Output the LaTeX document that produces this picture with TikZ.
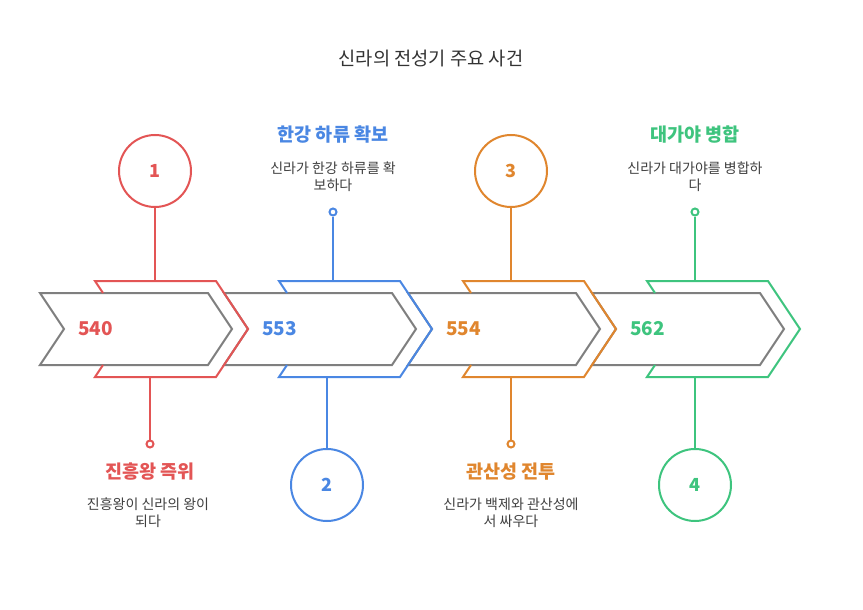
\documentclass[tikz,border=0pt]{standalone}
\usepackage{fontspec}
\setmainfont{Noto Sans CJK KR}
\definecolor{cred}{HTML}{E35555}
\definecolor{cblue}{HTML}{4A87E3}
\definecolor{corange}{HTML}{E0862E}
\definecolor{cgreen}{HTML}{3EC47E}
\definecolor{cgray}{HTML}{7F7F7F}
\definecolor{txt}{HTML}{404040}
\definecolor{ttlc}{HTML}{333333}
\begin{document}
\begin{tikzpicture}[x=1pt,y=-1pt,
  chev/.style={draw=cgray, line width=2pt, line join=miter},
  outl/.style={line width=2pt, line join=miter},
  bigc/.style={circle, draw, line width=2pt, minimum size=72pt, inner sep=0pt, font=\bfseries\fontsize{18}{20}\selectfont},
  dot/.style={circle, draw, line width=2pt, minimum size=7pt, inner sep=0pt, fill=white},
  conn/.style={line width=2pt},
  ttl/.style={font=\bfseries\fontsize{18.5}{22}\selectfont},
  desc/.style={font=\fontsize{14}{17}\selectfont, text=txt, align=center},
  yr/.style={font=\bfseries\fontsize{19}{22}\selectfont, anchor=west, inner sep=0pt}
]
\useasboundingbox[fill=white] (0,0) rectangle (863,610);

\node[font=\fontsize{18.7}{22}\selectfont, text=ttlc] (title) at (431,59) {신라의 전성기 주요 사건};

% gray chevrons
\foreach \i in {0,...,3}{
  \draw[chev] ({40+184*\i},293) -- ++(168,0) -- ++(24,36) -- ++(-24,36) -- ++(-168,0) -- ++(24,-36) -- cycle;
}
% coloured outlines
\foreach \i/\c in {0/cred,1/cblue,2/corange,3/cgreen}{
  \draw[outl, draw=\c] ({103+184*\i},293) -- ({95+184*\i},281) -- ({216+184*\i},281) -- ({248+184*\i},329) -- ({216+184*\i},377) -- ({95+184*\i},377) -- ({103+184*\i},365);
}

% years
\node[yr, text=cred] (y1) at (78,329) {540};
\node[yr, text=cblue] (y2) at (262,329) {553};
\node[yr, text=corange] (y3) at (446,329) {554};
\node[yr, text=cgreen] (y4) at (630,329) {562};

% event 1 (540)
\node[bigc, draw=cred, text=cred] (c1) at (155,171) {1};
\coordinate (t1) at (155,281);
\draw[conn, cred] (c1) -- (t1);
\coordinate (b1) at (150,377);
\node[dot, draw=cred] (d1) at (150,444) {};
\draw[conn, cred] (b1) -- (d1);
\node[ttl, text=cred] (l1) at (150,472) {진흥왕 즉위};
\node[desc] (e1) at (148,513) {진흥왕이 신라의 왕이\\되다};

% event 2 (553)
\node[ttl, text=cblue] (l2) at (333,135) {한강 하류 확보};
\node[desc] (e2) at (333,176.5) {신라가 한강 하류를 확\\보하다};
\node[dot, draw=cblue] (d2) at (333,212) {};
\coordinate (t2) at (333,281);
\draw[conn, cblue] (d2) -- (t2);
\coordinate (b2) at (327,377);
\node[bigc, draw=cblue, text=cblue] (c2) at (327,485) {2};
\draw[conn, cblue] (b2) -- (c2);

% event 3 (554)
\node[bigc, draw=corange, text=corange] (c3) at (511,171) {3};
\coordinate (t3) at (511,281);
\draw[conn, corange] (c3) -- (t3);
\coordinate (b3) at (511,377);
\node[dot, draw=corange] (d3) at (511,444) {};
\draw[conn, corange] (b3) -- (d3);
\node[ttl, text=corange] (l3) at (511,472) {관산성 전투};
\node[desc] (e3) at (511,513) {신라가 백제와 관산성에\\서 싸우다};

% event 4 (562)
\node[ttl, text=cgreen] (l4) at (695,135) {대가야 병합};
\node[desc] (e4) at (695,176.5) {신라가 대가야를 병합하\\다};
\node[dot, draw=cgreen] (d4) at (695,212) {};
\coordinate (t4) at (695,281);
\draw[conn, cgreen] (d4) -- (t4);
\coordinate (b4) at (695,377);
\node[bigc, draw=cgreen, text=cgreen] (c4) at (695,485) {4};
\draw[conn, cgreen] (b4) -- (c4);
\end{tikzpicture}
\end{document}
